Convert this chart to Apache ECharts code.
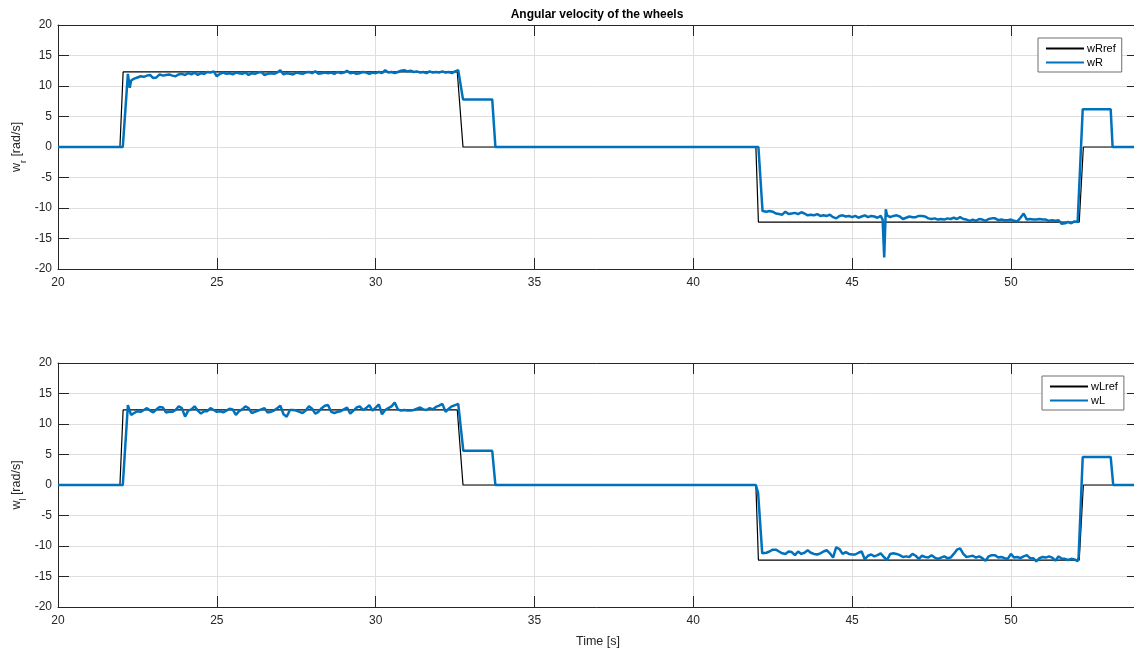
<!DOCTYPE html>
<html>
<head>
<meta charset="utf-8">
<script src="https://cdn.jsdelivr.net/npm/echarts@6/dist/echarts.min.js"></script>
<style>
html,body{margin:0;padding:0;background:#fff;}
#c{width:1134px;height:651px;}
</style>
</head>
<body>
<div id="c"></div>
<script>
// ---------- DATA ----------
const X_TICKS = [20, 25, 30, 35, 40, 45, 50];
const Y_TICKS = [-20, -15, -10, -5, 0, 5, 10, 15, 20];
const DT = 0.1;
const T_POS = 22.3;   // first sample of the positive plateau
const T_NEG = 42.2;   // first sample of the negative plateau

// reference (step) signals
const ref_t = [20, 21.95, 22.05, 32.57, 32.75, 41.97, 42.05, 52.15, 52.28, 54];
const wRref = [0, 0, 12.3, 12.3, 0, 0, -12.3, -12.3, 0, 0];
const wLref = [0, 0, 12.3, 12.3, 0, 0, -12.3, -12.3, 0, 0];

// measured right wheel: transitions (time / value)
const wR_knot_t = [20, 22.04, 22.2, 22.26, 32.75, 33.67, 33.77, 42.05, 42.18, 45.96, 46.01, 46.06, 52.13, 52.26, 53.14, 53.2, 54];
const wR_knot_v = [0, 0, 12.0, 9.7, 7.8, 7.8, 0, 0, -10.5, -11.9, -18.1, -10.2, -12.2, 6.2, 6.2, 0, 0];
// measured right wheel: plateau samples (every 0.1 s)
const wR_pos = [10.9, 11.2, 11.4, 11.6, 11.5, 11.7, 11.8, 11.3, 11.4, 11.9,
  11.7, 11.8, 11.9, 11.7, 11.6, 11.9, 12.0, 11.8, 12.1, 11.9,
  12.2, 11.8, 12.1, 12.0, 12.3, 12.2, 12.4, 11.6, 12.0, 12.2,
  12.0, 12.1, 11.9, 12.2, 12.1, 12.0, 12.2, 11.8, 12.1, 12.0,
  12.2, 12.3, 11.8, 12.0, 12.1, 12.0, 12.2, 12.6, 11.9, 12.1,
  12.0, 11.9, 12.2, 12.1, 12.0, 12.2, 12.3, 12.1, 12.4, 12.0,
  12.1, 12.2, 12.1, 12.2, 12.0, 12.3, 12.1, 12.2, 12.5, 12.1,
  12.2, 12.0, 12.1, 12.3, 12.2, 12.0, 12.2, 12.1, 12.3, 12.1,
  12.6, 12.2, 12.3, 12.1, 12.3, 12.5, 12.6, 12.4, 12.5, 12.3,
  12.4, 12.2, 12.3, 12.1, 12.4, 12.2, 12.3, 12.2, 12.4, 12.2,
  12.3, 12.1, 12.4, 12.6];
const wR_neg = [-10.5, -10.6, -10.5, -10.6, -10.9, -11.0, -11.1, -10.6, -11.0, -10.9,
  -10.8, -11.0, -10.7, -10.9, -11.2, -11.1, -11.2, -11.0, -11.3, -11.2,
  -11.3, -11.1, -11.5, -11.7, -11.3, -11.2, -11.4, -11.3, -11.5, -11.3,
  -11.6, -11.4, -11.2, -11.5, -11.3, -11.4, -11.6, -11.3, null, -11.2,
  -11.5, -11.3, -11.2, -11.4, -11.8, -11.6, -11.4, -11.5, -11.5, -11.3,
  -11.3, -11.4, -11.7, -11.8, -11.7, -11.9, -11.8, -11.9, -11.7, -11.8,
  -11.6, -11.8, -11.5, -11.8, -11.9, -12.1, -11.9, -12.1, -11.8, -11.9,
  -12.1, -11.8, -11.7, -11.7, -12.0, -11.9, -12.0, -12.0, -11.9, -12.1,
  -12.2, -11.6, -10.9, -11.9, -11.8, -11.9, -11.9, -11.8, -11.9, -11.9,
  -12.1, -12.0, -12.1, -12.0, -12.6, -12.5, -12.3, -12.5, -12.2, -12.3];

// measured left wheel
const wL_knot_t = [20, 22.04, 22.2, 32.76, 33.67, 33.77, 41.97, 42.04, 42.17, 52.13, 52.26, 53.14, 53.22, 54];
const wL_knot_v = [0, 0, 13.1, 5.6, 5.6, 0, 0, -1.3, -11.2, -11.8, 4.6, 4.6, 0, 0];
const wL_pos = [11.5, 11.8, 12.1, 12.0, 12.3, 12.6, 12.2, 11.9, 12.4, 12.8,
  12.7, 11.9, 12.0, 12.0, 12.3, 12.9, 12.6, 11.2, 12.2, 12.4,
  12.9, 12.2, 11.7, 12.1, 12.1, 12.6, 12.3, 12.0, 12.1, 11.9,
  12.2, 12.5, 12.4, 11.5, 12.1, 12.4, 12.9, 12.6, 11.8, 12.0,
  12.2, 12.4, 12.6, 11.9, 12.0, 12.2, 12.6, 13.0, 11.6, 11.2,
  12.3, 12.3, 12.2, 12.0, 11.8, 12.2, 12.9, 12.5, 11.7, 12.0,
  12.6, 13.0, 13.1, 12.0, 11.8, 12.0, 12.1, 12.4, 12.7, 11.7,
  12.2, 12.7, 12.9, 12.3, 12.6, 13.1, 12.2, 12.7, 13.2, 11.6,
  12.3, 12.6, 12.9, 13.5, 12.4, 12.2, 12.3, 12.2, 12.2, 12.3,
  12.5, 12.7, 12.4, 12.3, 12.6, 12.4, 12.8, 13.0, 13.3, 12.0,
  12.5, 12.9, 13.1, 13.3];
const wL_neg = [-11.2, -11.1, -10.9, -10.6, -10.6, -10.9, -11.2, -11.3, -10.9, -11.0,
  -11.5, -10.9, -11.3, -11.1, -10.7, -11.1, -11.3, -11.4, -11.2, -10.9,
  -10.7, -11.2, -11.9, -10.2, -10.5, -11.3, -11.0, -11.3, -11.4, -11.4,
  -11.1, -10.9, -12.2, -11.6, -11.4, -11.7, -11.5, -11.2, -11.8, -12.3,
  -11.3, -11.2, -11.3, -11.5, -11.8, -11.7, -11.8, -11.3, -11.6, -12.1,
  -11.6, -11.8, -11.9, -11.5, -11.9, -12.1, -11.9, -11.7, -12.0, -11.9,
  -11.3, -10.6, -10.4, -11.3, -11.8, -11.7, -11.6, -11.9, -11.7, -12.0,
  -12.4, -11.7, -11.5, -11.5, -11.9, -11.8, -12.0, -12.1, -11.3, -11.9,
  -11.8, -12.0, -11.7, -11.5, -12.0, -12.0, -12.5, -12.0, -11.8, -11.9,
  -11.7, -11.9, -12.4, -11.7, -12.1, -12.1, -12.3, -12.1, -12.2, -12.5];

// ---------- BUILD ----------
function pairs(ts, vs) { return ts.map((t, i) => [t, vs[i]]); }
function samples(t0, vals) {
  const out = [];
  vals.forEach((v, i) => { if (v !== null) out.push([Math.round((t0 + i * DT) * 100) / 100, v]); });
  return out;
}
function measured(kt, kv, pos, neg) {
  return pairs(kt, kv).concat(samples(T_POS, pos), samples(T_NEG, neg)).sort((a, b) => a[0] - b[0]);
}
const dataR = measured(wR_knot_t, wR_knot_v, wR_pos, wR_neg);
const dataL = measured(wL_knot_t, wL_knot_v, wL_pos, wL_neg);

const FONT = '"Liberation Sans", Arial, Helvetica, sans-serif';
const AX = '#262626';
const GRIDC = '#dedede';
const PLOT_L = 58, PLOT_W = 1080, PLOT_H = 244;
const TOPS = [25, 363];

function xAxes(g, withName) {
  return [{
    type: 'value', gridIndex: g, position: 'bottom', min: 20, max: 54, interval: 5,
    axisLine: { onZero: false, lineStyle: { color: AX, width: 1 } },
    axisTick: { inside: true, length: 11, lineStyle: { color: AX } },
    axisLabel: { color: AX, fontSize: 12, fontFamily: FONT, margin: 8, showMaxLabel: false },
    splitLine: { show: true, lineStyle: { color: GRIDC, width: 1 } },
    name: withName ? 'Time [s]' : '', nameLocation: 'middle', nameGap: 28,
    nameTextStyle: { color: AX, fontSize: 12.5, fontFamily: FONT }
  }, {
    type: 'value', gridIndex: g, position: 'top', min: 20, max: 54, interval: 5,
    axisLine: { onZero: false, lineStyle: { color: AX, width: 1 } },
    axisTick: { inside: true, length: 11, lineStyle: { color: AX } },
    axisLabel: { show: false }, splitLine: { show: false }
  }];
}
function yAxes(g, sub) {
  return [{
    type: 'value', gridIndex: g, position: 'left', min: -20, max: 20, interval: 5,
    axisLine: { onZero: false, lineStyle: { color: AX, width: 1 } },
    axisTick: { inside: true, length: 11, lineStyle: { color: AX } },
    axisLabel: { color: AX, fontSize: 12, fontFamily: FONT, margin: 6 },
    splitLine: { show: true, lineStyle: { color: GRIDC, width: 1 } },
    name: '{a|w}{b|' + sub + '}{a| [rad/s]}', nameLocation: 'middle', nameGap: 30, nameRotate: 90,
    nameMoveOverlap: false,
    nameTextStyle: {
      rich: {
        a: { fontSize: 12.5, fontFamily: FONT, color: AX, lineHeight: 22, verticalAlign: 'middle' },
        b: { fontSize: 9, fontFamily: FONT, color: AX, verticalAlign: 'bottom' }
      }
    }
  }, {
    type: 'value', gridIndex: g, position: 'right', min: -20, max: 20, interval: 5,
    axisLine: { onZero: false, lineStyle: { color: AX, width: 1 } },
    axisTick: { inside: true, length: 11, lineStyle: { color: AX } },
    axisLabel: { show: false }, splitLine: { show: false }
  }];
}
function legend(names, left, top) {
  return {
    data: [
      { name: names[0], itemStyle: { color: '#000000' } },
      { name: names[1], itemStyle: { color: '#0072BD' } }
    ],
    orient: 'vertical', left: left, top: top, icon: 'rect',
    itemWidth: 38, itemHeight: 2, itemGap: 3,
    padding: [5, 6, 4, 8], backgroundColor: '#fff', borderColor: '#6e6e6e', borderWidth: 1,
    textStyle: { fontSize: 11, fontFamily: FONT, color: '#000', padding: [0, 0, 0, -2] },
    selectedMode: false
  };
}
function line(name, data, xi, yi, color, width, z) {
  return {
    name: name, type: 'line', xAxisIndex: xi, yAxisIndex: yi, data: data,
    showSymbol: false, symbol: 'none', lineStyle: { color: color, width: width }, itemStyle: { color: color },
    z: z, animation: false, clip: true
  };
}

const chart = echarts.init(document.getElementById('c'), null, { renderer: 'canvas' });
chart.setOption({
  animation: false,
  backgroundColor: '#ffffff',
  grid: TOPS.map(t => ({ left: PLOT_L, top: t, width: PLOT_W, height: PLOT_H, containLabel: false, outerBoundsMode: 'none' })),
  xAxis: xAxes(0, false).concat(xAxes(1, true)),
  yAxis: yAxes(0, 'r').concat(yAxes(1, 'l')),
  legend: [legend(['wRref', 'wR'], 1038, 38), legend(['wLref', 'wL'], 1042, 376)],
  graphic: [{
    type: 'text', x: 597, y: 15,
    style: { text: 'Angular velocity of the wheels', font: 'bold 12px ' + FONT, fill: '#000',
      align: 'center', verticalAlign: 'middle', textAlign: 'center', textVerticalAlign: 'middle' }
  }],
  series: [
    line('wRref', pairs(ref_t, wRref), 0, 0, '#000000', 1.2, 2),
    line('wR', dataR, 0, 0, '#0072BD', 2.5, 3),
    line('wLref', pairs(ref_t, wLref), 2, 2, '#000000', 1.2, 2),
    line('wL', dataL, 2, 2, '#0072BD', 2.5, 3)
  ]
});
</script>
</body>
</html>
